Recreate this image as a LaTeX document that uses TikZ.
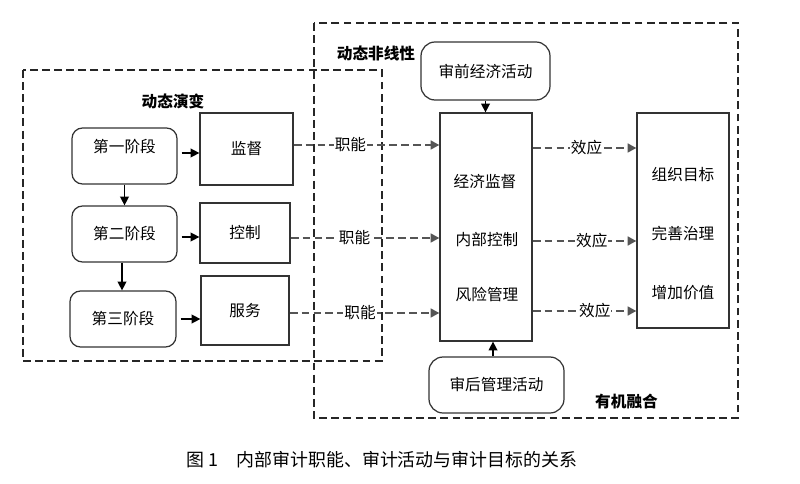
\documentclass[tikz,border=0pt]{standalone}
\usepackage{fontspec}
\setmainfont{Noto Sans CJK SC}
\usetikzlibrary{arrows.meta}
\definecolor{linegray}{HTML}{555555}
\definecolor{boxline}{HTML}{333333}

\begin{document}
\begin{tikzpicture}[
        font=\fontsize{8.9}{10}\selectfont,
        stagebox/.style={draw=boxline, line width=0.7pt, rounded corners=6pt},
        funcbox/.style={draw=boxline, line width=0.7pt},
        areaframe/.style={draw=black!85, line width=1.4pt, dash pattern=on 4.5pt off 2.4pt},
        flow/.style={-{Triangle[length=5pt,width=5pt]}, line width=0.8pt},
        dashflow/.style={-{Triangle[length=5pt,width=5pt]}, draw=linegray, color=linegray, line width=1.6pt, dash pattern=on 4.5pt off 2.3pt},
        lbl/.style={fill=white, inner sep=0.5pt, text=black}
    ]
        \useasboundingbox (0,0) rectangle (16,-9.68);
        % dashed areas
        \draw[areaframe] (0.46,-1.40) rectangle (7.64,-7.22);
        \draw[areaframe] (6.28,-0.46) rectangle (14.76,-8.36);
        \node[font=\fontsize{8.9}{10}\selectfont\bfseries] (evo) at (3.46,-2.02) {动态演变};
        \node[font=\fontsize{8.9}{10}\selectfont\bfseries] (nonlin) at (7.52,-1.06) {动态非线性};
        \node[font=\fontsize{8.9}{10}\selectfont\bfseries] (fuse) at (12.53,-8.04) {有机融合};

        % stages
        \node[stagebox, minimum width=2.1cm, minimum height=1.12cm] (s1) at (2.49,-3.12) {};
        \node[] at (2.49,-2.94) {第一阶段};
        \node[stagebox, minimum width=2.1cm, minimum height=1.12cm] (s2) at (2.49,-4.68) {第二阶段};
        \node[stagebox, minimum width=2.12cm, minimum height=1.12cm] (s3) at (2.46,-6.38) {第三阶段};

        % functions
        \node[funcbox, minimum width=1.86cm, minimum height=1.44cm] (f1) at (4.93,-2.98) {监督};
        \node[funcbox, minimum width=1.8cm, minimum height=1.2cm] (f2) at (4.90,-4.66) {控制};
        \node[funcbox, minimum width=1.76cm, minimum height=1.38cm] (f3) at (4.90,-6.21) {服务};

        \draw[flow, shorten <=0.08cm] (s1.east |- 0,-3.06) -- (f1.west |- 0,-3.06);
        \draw[flow, shorten <=0.08cm] (s2.east |- 0,-4.74) -- (f2.west |- 0,-4.74);
        \draw[flow, shorten <=0.08cm] (s3.east) -- (s3.east -| f3.west);
        \draw[flow] (s1.south) -- (s2.north);
        \draw[flow] (s2.south -| 2.44,0) -- (2.44,0 |- s3.north);

        % activities
        \node[stagebox, rounded corners=8pt, minimum width=2.58cm, minimum height=1.16cm] (pre) at (9.71,-1.42) {审前经济活动};
        \node[funcbox, minimum width=1.84cm, minimum height=4.56cm] (c) at (9.72,-4.54) {};
        \node[] (c1) at (9.70,-3.64) {经济监督};
        \node[] (c2) at (9.74,-4.80) {内部控制};
        \node[] (c3) at (9.74,-5.90) {风险管理};
        \node[stagebox, rounded corners=8pt, minimum width=2.7cm, minimum height=1.12cm] (post) at (9.93,-7.70) {审后管理活动};

        \draw[flow] (pre.south) -- (pre.south |- c.north);
        \draw[flow] (9.86,0 |- post.north) -- (9.86,0 |- c.south);

        % goals
        \node[funcbox, minimum width=1.84cm, minimum height=4.3cm] (g) at (13.66,-4.41) {};
        \node[] (g1) at (13.66,-3.50) {组织目标};
        \node[] (g2) at (13.66,-4.66) {完善治理};
        \node[] (g3) at (13.66,-5.86) {增加价值};

        \coordinate (r1) at (0,-2.90);
        \coordinate (r2) at (0,-4.76);
        \coordinate (r3) at (0,-6.26);
        \coordinate (e1) at (0,-2.96);
        \coordinate (e2) at (0,-4.82);
        \coordinate (e3) at (0,-6.22);

        \draw[dashflow] (f1.east |- r1) -- node[lbl, pos=0.39] {职能} (c.west |- r1);
        \draw[dashflow] (f2.east |- r2) -- node[lbl, pos=0.43] {职能} (c.west |- r2);
        \draw[dashflow] (f3.east |- r3) -- node[lbl, pos=0.47] {职能} (c.west |- r3);
        \draw[dashflow] (c.east |- e1) -- node[lbl, pos=0.52] {效应} (g.west |- e1);
        \draw[dashflow] (c.east |- e2) -- node[lbl, pos=0.57] {效应} (g.west |- e2);
        \draw[dashflow] (c.east |- e3) -- node[lbl, pos=0.60] {效应} (g.west |- e3);

        % caption
        \node[font=\fontsize{10.2}{12}\selectfont] (cap) at (7.64,-9.20) {图 1\quad 内部审计职能、审计活动与审计目标的关系};
    \end{tikzpicture}
\end{document}
